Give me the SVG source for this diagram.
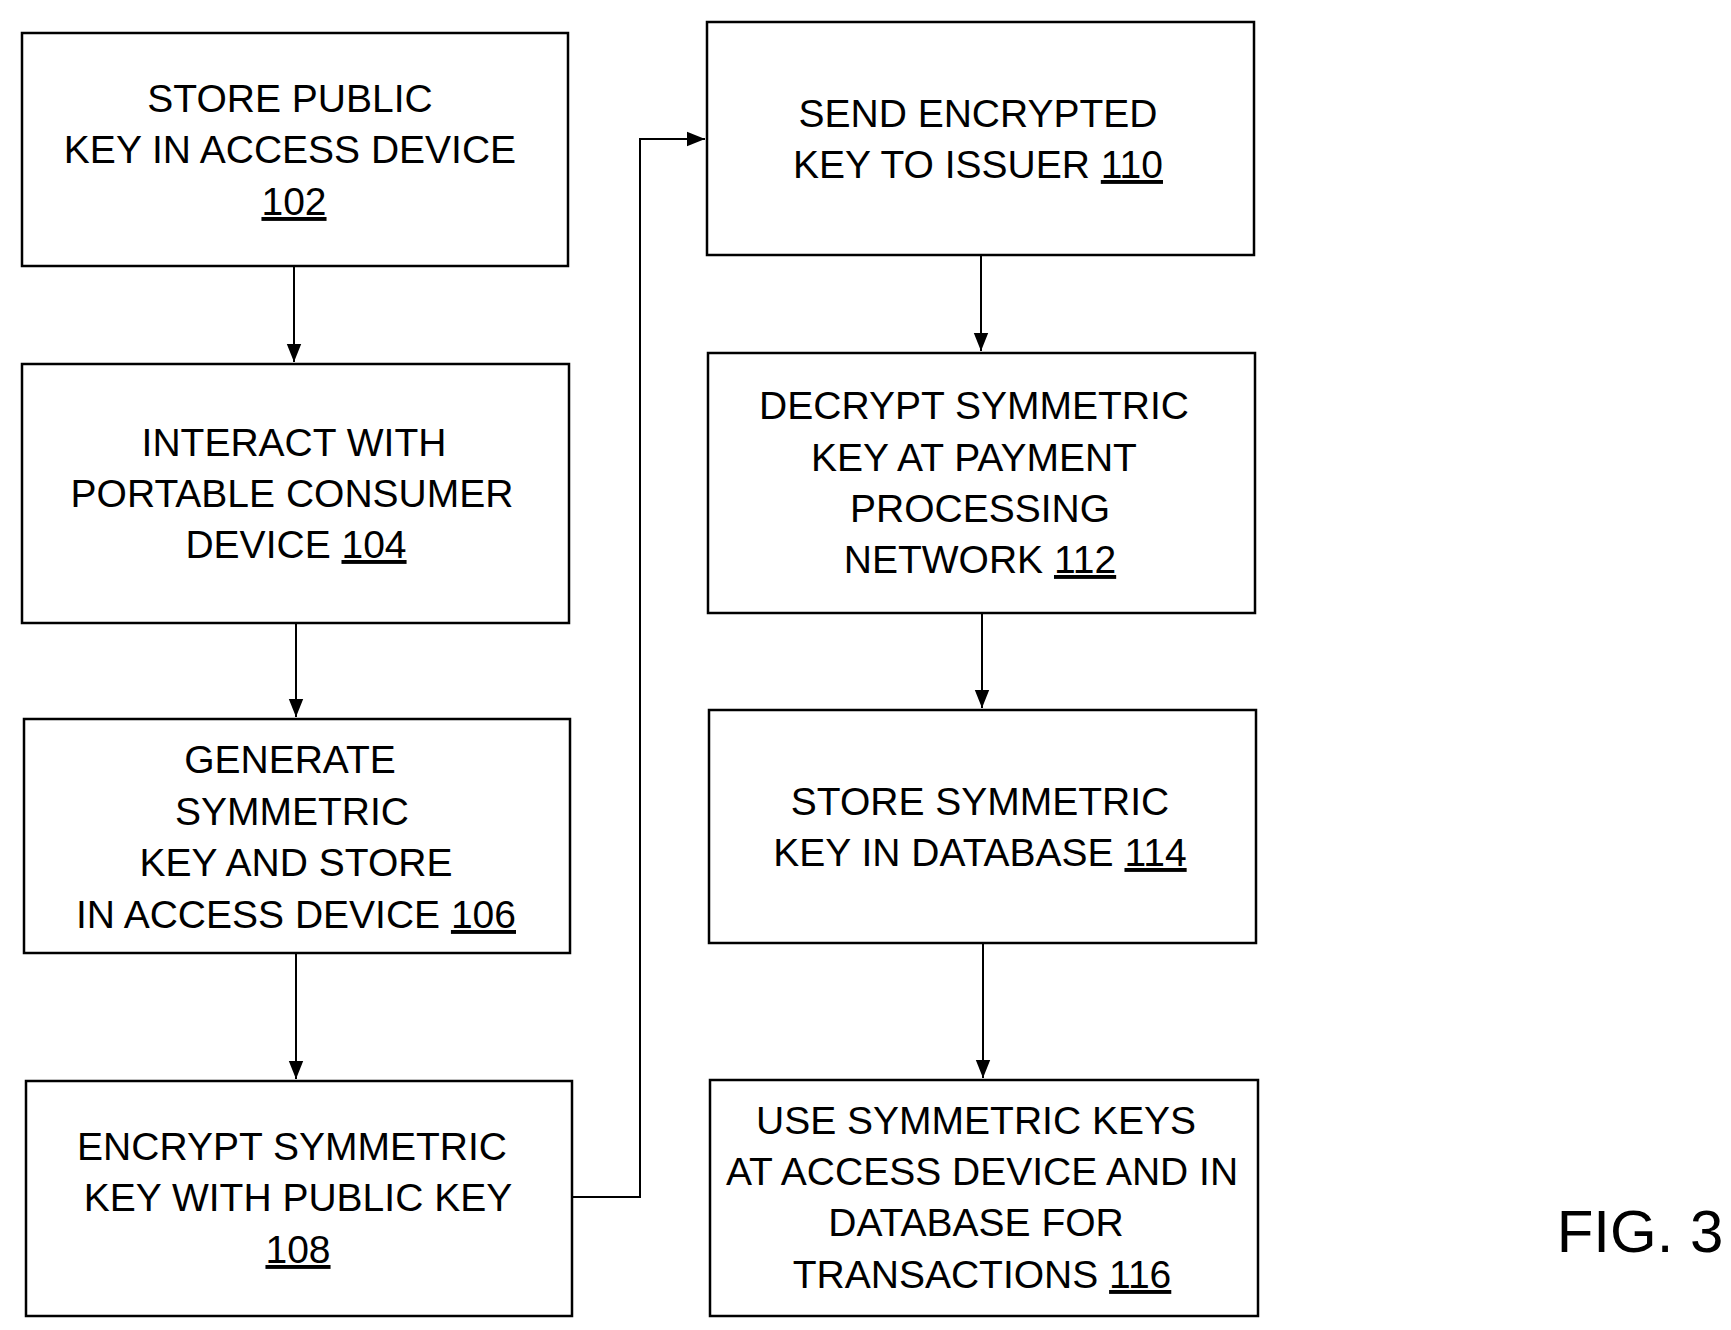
<svg xmlns="http://www.w3.org/2000/svg" width="1731" height="1330" viewBox="0 0 1731 1330">
<style>
rect{fill:#fff;stroke:#000;stroke-width:2.5}
text{font-family:"Liberation Sans",Arial,sans-serif;font-size:39px;text-anchor:middle;fill:#000}
.u{text-decoration:underline}
.c{fill:none;stroke:#000;stroke-width:2}
</style>
<defs><marker id="a" viewBox="0 0 10 10" refX="10" refY="5" markerWidth="18" markerHeight="18" markerUnits="userSpaceOnUse" orient="auto"><path d="M0,1L10,5L0,9z" fill="#000"/></marker></defs>
<rect width="1731" height="1330" style="stroke:none"/>
<g id="n102"><rect x="22" y="33" width="546" height="233"/><text x="290" y="112">STORE PUBLIC</text><text x="290" y="163">KEY IN ACCESS DEVICE</text><text x="294" y="215" class="u">102</text></g>
<g id="n104"><rect x="22" y="364" width="547" height="259"/><text x="294" y="456">INTERACT WITH</text><text x="292" y="507">PORTABLE CONSUMER</text><text x="296" y="558">DEVICE <tspan class="u">104</tspan></text></g>
<g id="n106"><rect x="24" y="719" width="546" height="234"/><text x="290" y="773">GENERATE</text><text x="292" y="825">SYMMETRIC</text><text x="296" y="876">KEY AND STORE</text><text x="296" y="928">IN ACCESS DEVICE <tspan class="u">106</tspan></text></g>
<g id="n108"><rect x="26" y="1081" width="546" height="235"/><text x="292" y="1160">ENCRYPT SYMMETRIC</text><text x="298" y="1211">KEY WITH PUBLIC KEY</text><text x="298" y="1263" class="u">108</text></g>
<g id="n110"><rect x="707" y="22" width="547" height="233"/><text x="978" y="127">SEND ENCRYPTED</text><text x="978" y="178">KEY TO ISSUER <tspan class="u">110</tspan></text></g>
<g id="n112"><rect x="708" y="353" width="547" height="260"/><text x="974" y="419">DECRYPT SYMMETRIC</text><text x="974" y="471">KEY AT PAYMENT</text><text x="980" y="522">PROCESSING</text><text x="980" y="573">NETWORK <tspan class="u">112</tspan></text></g>
<g id="n114"><rect x="709" y="710" width="547" height="233"/><text x="980" y="815">STORE SYMMETRIC</text><text x="980" y="866">KEY IN DATABASE <tspan class="u">114</tspan></text></g>
<g id="n116"><rect x="710" y="1080" width="548" height="236"/><text x="976" y="1134">USE SYMMETRIC KEYS</text><text x="982" y="1185">AT ACCESS DEVICE AND IN</text><text x="976" y="1236">DATABASE FOR</text><text x="982" y="1288">TRANSACTIONS  <tspan class="u">116</tspan></text></g>
<g id="connectors">
<path class="c" d="M294,266V362" marker-end="url(#a)"/>
<path class="c" d="M296,623V717" marker-end="url(#a)"/>
<path class="c" d="M296,953V1079" marker-end="url(#a)"/>
<path class="c" d="M572,1197H640V139H705" marker-end="url(#a)"/>
<path class="c" d="M981,255V351" marker-end="url(#a)"/>
<path class="c" d="M982,613V708" marker-end="url(#a)"/>
<path class="c" d="M983,943V1078" marker-end="url(#a)"/>
</g>
<text x="1640" y="1252" style="font-size:60px">FIG. 3</text>
</svg>
